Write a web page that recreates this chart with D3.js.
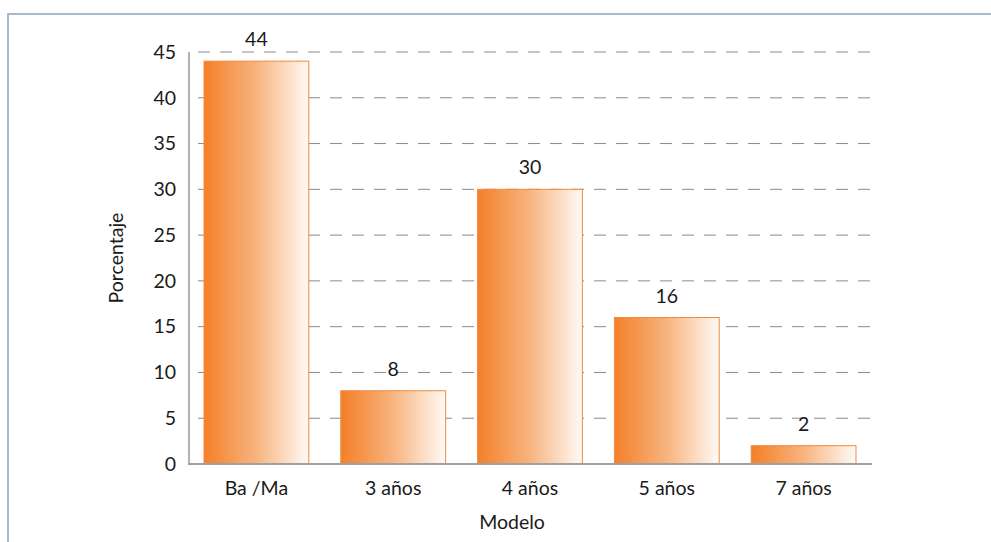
<!DOCTYPE html>
<html><head><meta charset="utf-8">
<script src="https://cdn.jsdelivr.net/npm/d3@7"></script>
<style>html,body{margin:0;padding:0;background:#fff;}svg{display:block;}</style>
</head><body>
<script>
const categories = ["Ba /Ma", "3 años", "4 años", "5 años", "7 años"];
const values = [44, 8, 30, 16, 2];
const yTicks = [0, 5, 10, 15, 20, 25, 30, 35, 40, 45];

const W = 991, H = 542;
const svg = d3.select("body").append("svg").attr("width", W).attr("height", H);
const font = "Lato, 'Open Sans', sans-serif";
const fs = 19.5;

// frame
svg.append("path").attr("d", `M8,${H} L8,14 L${W},14`).attr("fill", "none")
  .attr("stroke", "#a7bac9").attr("stroke-width", 2);

const x = d3.scaleBand().domain(categories).range([188, 872]).paddingInner(0.234).paddingOuter(0.117);
const y = d3.scaleLinear().domain([0, 45]).range([464, 52]);

const defs = svg.append("defs");
const g = defs.append("linearGradient").attr("id", "bg").attr("x1", "0%").attr("x2", "100%").attr("y1", "0%").attr("y2", "0%");
g.append("stop").attr("offset", "0%").attr("stop-color", "#f47f28");
g.append("stop").attr("offset", "50%").attr("stop-color", "#f7b47f");
g.append("stop").attr("offset", "100%").attr("stop-color", "#fffaf5");

// gridlines
svg.append("g").selectAll("line").data(yTicks.filter(d => d > 0)).join("line")
  .attr("x1", 198).attr("x2", 872).attr("y1", d => y(d)).attr("y2", d => y(d))
  .attr("stroke", "#8a8a8a").attr("stroke-width", 1).attr("stroke-dasharray", "12,10");

// bars
svg.append("g").selectAll("rect").data(values).join("rect")
  .attr("x", (d, i) => x(categories[i])).attr("width", x.bandwidth())
  .attr("y", d => y(d)).attr("height", d => y(0) - y(d))
  .attr("fill", "url(#bg)").attr("stroke", "#f08a3c").attr("stroke-width", 1);

// value labels
svg.append("g").selectAll("text").data(values).join("text")
  .attr("x", (d, i) => x(categories[i]) + x.bandwidth() / 2).attr("y", d => y(d) - 15)
  .attr("text-anchor", "middle").attr("font-family", font).attr("font-size", fs).attr("fill", "#1a1a1a")
  .text(d => d);

// axes lines
svg.append("line").attr("x1", 189).attr("x2", 189).attr("y1", y(45)).attr("y2", y(0))
  .attr("stroke", "#9a9a9a").attr("stroke-width", 1.5);
svg.append("line").attr("x1", 188).attr("x2", 872).attr("y1", y(0)).attr("y2", y(0))
  .attr("stroke", "#a0a0a0").attr("stroke-width", 2);

// y tick labels
svg.append("g").selectAll("text").data(yTicks).join("text")
  .attr("x", 176).attr("y", d => y(d)).attr("dy", "0.35em").attr("text-anchor", "end")
  .attr("font-family", font).attr("font-size", fs).attr("fill", "#1a1a1a").text(d => d);

// x labels
svg.append("g").selectAll("text").data(categories).join("text")
  .attr("x", d => x(d) + x.bandwidth() / 2).attr("y", 495).attr("text-anchor", "middle")
  .attr("font-family", font).attr("font-size", fs).attr("fill", "#1a1a1a").text(d => d);

svg.append("text").attr("x", 512).attr("y", 529).attr("text-anchor", "middle")
  .attr("font-family", font).attr("font-size", fs).attr("fill", "#1a1a1a").text("Modelo");
svg.append("text").attr("transform", "translate(123,258) rotate(-90)").attr("text-anchor", "middle")
  .attr("font-family", font).attr("font-size", fs).attr("fill", "#1a1a1a").text("Porcentaje");
</script>
</body></html>
